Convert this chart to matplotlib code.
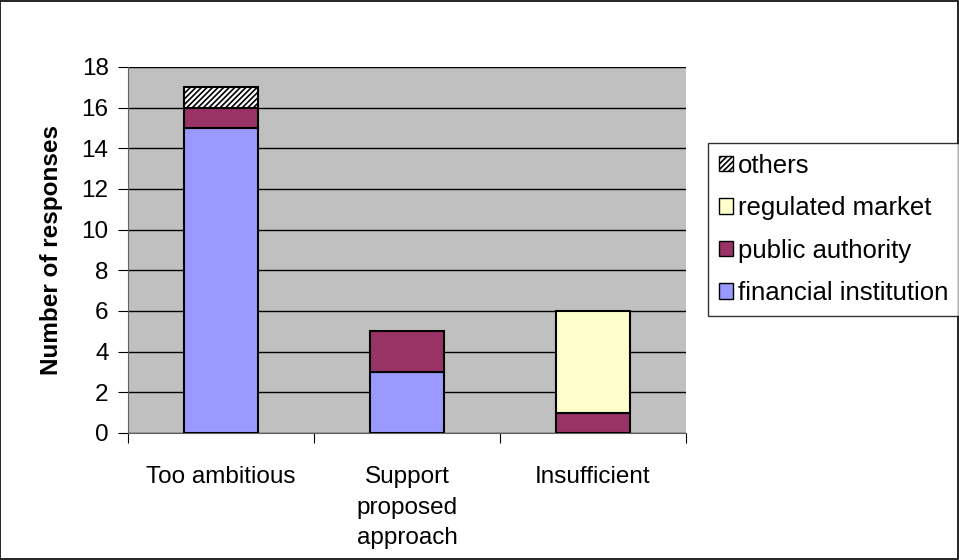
import matplotlib
matplotlib.use("Agg")
import matplotlib.pyplot as plt
import numpy as np
from matplotlib.patches import Rectangle, Patch

plt.rcParams['font.family'] = ['Liberation Sans', 'DejaVu Sans']
plt.rcParams['hatch.linewidth'] = 1.2

categories = ["Too ambitious", "Support\nproposed\napproach", "Insufficient"]
financial_institution = [15, 3, 0]
public_authority = [1, 2, 1]
regulated_market = [0, 0, 5]
others = [1, 0, 0]
yticks = [0, 2, 4, 6, 8, 10, 12, 14, 16, 18]

FS = 17.5

fig = plt.figure(figsize=(9.59, 5.6), dpi=100)
ax = fig.add_axes([0.1335, 0.2268, 0.7153 - 0.1335, 0.8804 - 0.2268])
ax.set_facecolor('#C0C0C0')

x = np.arange(len(categories))
w = 0.4
bottom = np.zeros(len(categories))
series = [
    (financial_institution, '#9999FF', None, 'financial institution'),
    (public_authority, '#993366', None, 'public authority'),
    (regulated_market, '#FFFFCC', None, 'regulated market'),
    (others, 'white', '//////', 'others'),
]
handles = []
for vals, col, hatch, lab in series:
    v = np.array(vals, dtype=float)
    b = ax.bar(x, v, w, bottom=bottom, color=col, edgecolor='black',
               linewidth=1.5, hatch=hatch, zorder=3)
    for r, val in zip(b, v):
        if val == 0:
            r.set_visible(False)
    handles.append(Patch(facecolor=col, edgecolor='black', hatch=hatch,
                         linewidth=1.0, label=lab))
    bottom += v

ax.set_xlim(-0.5, 2.5)
ax.set_ylim(0, 18)
ax.set_yticks(yticks)
ax.yaxis.grid(True, color='black', linewidth=1.0, zorder=1)
ax.set_axisbelow(True)
for s in ['top', 'right']:
    ax.spines[s].set_visible(False)
ax.spines['left'].set_color('#606060')
ax.spines['bottom'].set_color('#606060')
ax.set_xticks([-0.5, 0.5, 1.5, 2.5])
ax.set_xticklabels([])
ax.set_xticks(x, minor=True)
ax.set_xticklabels(categories, minor=True, fontsize=FS, va='top', linespacing=1.5)
ax.tick_params(axis='x', which='minor', length=0, pad=24)
ax.tick_params(axis='x', which='major', length=7, color='black', direction='out')
ax.tick_params(axis='y', length=7, color='black', labelsize=FS, pad=7)
ax.set_ylabel('Number of responses', fontsize=FS, fontweight='bold', labelpad=13)

leg = fig.legend(handles=handles[::-1],
                 loc='upper left', bbox_to_anchor=(0.738, 0.745),
                 fontsize=18.5, frameon=True, fancybox=False, edgecolor='black',
                 handlelength=0.55, handleheight=0.55, handletextpad=0.2,
                 labelspacing=0.72, borderpad=0.42, borderaxespad=0)
leg.get_frame().set_linewidth(1.0)

fig.patches.append(Rectangle((0.0005, 0.001), 0.998, 0.998, transform=fig.transFigure,
                             fill=False, edgecolor='black', linewidth=1.2))

fig.savefig('out.png', dpi=100)
